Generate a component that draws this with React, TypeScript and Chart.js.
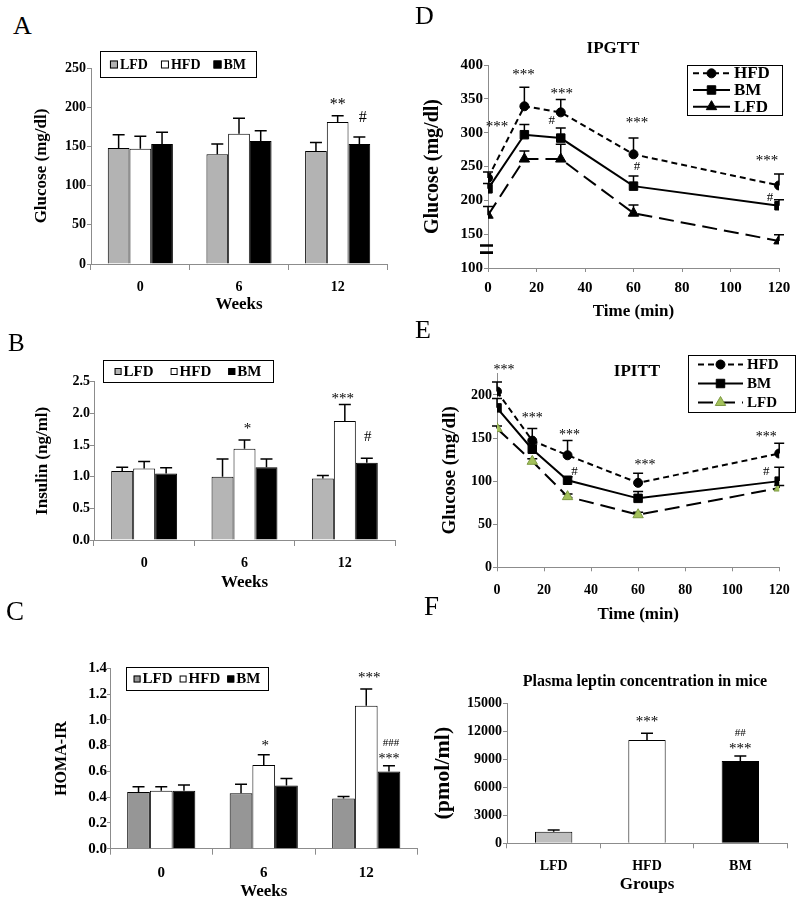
import React, { useEffect, useRef } from 'react';
import { Chart, registerables } from 'chart.js';

Chart.register(...registerables);

const SERIF = "'Liberation Serif', 'Times New Roman', Times, serif";
const AXIS_GREY = '#8c8c8c';

// ---------------- data ----------------
const weekLabels = ['0', '6', '12'];
const groupLabels = ['LFD', 'HFD', 'BM'];
const timePoints = [0, 15, 30, 60, 120];
const timeTicks = [0, 20, 40, 60, 80, 100, 120];

// A: glucose (mg/dl)
const glucoseTicks = [0, 50, 100, 150, 200, 250];
const glucoseLFD = [148, 140, 144];
const glucoseLFDErr = [17, 13, 11];
const glucoseHFD = [147, 166, 181];
const glucoseHFDErr = [16, 20, 8];
const glucoseBM = [153, 157, 153];
const glucoseBMErr = [15, 13, 9];
const glucoseSigHFD = ['', '', '**'];
const glucoseSigBM = ['', '', '#'];

// B: insulin (ng/ml)
const insulinTicks = [0, 0.5, 1, 1.5, 2, 2.5];
const insulinLFD = [1.09, 1.0, 0.97];
const insulinLFDErr = [0.06, 0.28, 0.05];
const insulinHFD = [1.13, 1.44, 1.88];
const insulinHFDErr = [0.11, 0.14, 0.26];
const insulinBM = [1.05, 1.15, 1.22];
const insulinBMErr = [0.09, 0.13, 0.07];
const insulinSigHFD = ['', '*', '***'];
const insulinSigBM = ['', '', '#'];

// C: HOMA-IR
const homaTicks = [0, 0.2, 0.4, 0.6, 0.8, 1.0, 1.2, 1.4];
const homaLFD = [0.44, 0.43, 0.39];
const homaLFDErr = [0.04, 0.07, 0.015];
const homaHFD = [0.45, 0.65, 1.11];
const homaHFDErr = [0.03, 0.08, 0.13];
const homaBM = [0.45, 0.49, 0.6];
const homaBMErr = [0.045, 0.055, 0.044];
const homaSigHFD = ['', '*', '***'];
const homaSigBM = ['', '', '***'];
const homaSigBM2 = ['', '', '###'];

// D: IPGTT glucose (mg/dl)
const ipgttTicks = [100, 150, 200, 250, 300, 350, 400];
const ipgttHFD = [233, 339, 330, 268, 222];
const ipgttHFDErr = [9, 28, 19, 24, 17];
const ipgttBM = [217, 297, 292, 221, 192];
const ipgttBMErr = [8, 15, 15, 15, 9];
const ipgttLFD = [178, 261, 261, 181, 140];
const ipgttLFDErr = [13, 12, 22, 12, 9];
const ipgttSigHFD = ['***', '***', '***', '***', '***'];
const ipgttSigBM = ['', '', '#', '#', '#'];

// E: IPITT glucose (mg/dl)
const ipittTicks = [0, 50, 100, 150, 200];
const ipittHFD = [204, 147, 130, 98, 132];
const ipittHFDErr = [11, 14, 17, 11, 12];
const ipittBM = [185, 137, 101, 80, 100];
const ipittBMErr = [11, 6, 4, 8, 16];
const ipittLFD = [161, 123, 82, 61, 92];
const ipittLFDErr = [3, 3, 3, 3, 3];
const ipittSigHFD = ['***', '***', '***', '***', '***'];
const ipittSigBM = ['', '', '#', '', '#'];

// F: plasma leptin (pmol/ml)
const leptinTicks = [0, 3000, 6000, 9000, 12000, 15000];
const leptinValues = [1240, 11040, 8800];
const leptinErr = [170, 720, 530];
const leptinSig = ['', '***', '***'];
const leptinSig2 = ['', '', '##'];

// ---------------- types ----------------
interface Frame {
  left: number; top: number; width: number; height: number;
  plotLeft: number; plotRight: number; plotTop: number; plotBottom: number;
}
interface AxisText { text: string; size: number; pad: number; }
interface Series {
  name: string; values: number[]; errors: number[]; fill: string | string[];
  dash?: number[]; point?: string; pointSize?: number; pointFill?: string; pointBorder?: string;
}
interface SigMark { series: number; labels: string[]; dx: number[]; dy: number[]; size: number; }
interface LegendSpec {
  kind: 'bar' | 'line'; x: number; y: number; w: number; h: number; size: number;
  gap?: number; swatch?: number; lineFrom?: number; lineTo?: number; textAt?: number;
}
interface PanelSpec {
  kind: 'bar' | 'line';
  frame: Frame;
  categories?: string[];
  xValues?: number[]; xTicks?: number[]; xMin?: number; xMax?: number;
  yTicks: number[]; yMin: number; yMax: number; decimals: number;
  series: Series[];
  catPct?: number; barPct?: number;
  tickSize: number; yTickLen: number; yTickPad: number; xTickLen: number; xTickPad: number;
  xTitle: AxisText; yTitle: AxisText;
  title?: { text: string; x: number; y: number; size: number };
  legend?: LegendSpec;
  marks: SigMark[];
  capHalf: number;
  breakAt?: number;
}

const LFD_GREEN = '#A3C15B';

// ---------------- panels ----------------
const panelA: PanelSpec = {
  kind: 'bar',
  frame: { left: 0, top: 40, width: 400, height: 280, plotLeft: 91, plotRight: 387, plotTop: 28, plotBottom: 224 },
  categories: weekLabels,
  yTicks: glucoseTicks, yMin: 0, yMax: 250, decimals: 0,
  series: [
    { name: 'LFD', values: glucoseLFD, errors: glucoseLFDErr, fill: '#B3B3B3' },
    { name: 'HFD', values: glucoseHFD, errors: glucoseHFDErr, fill: '#FFFFFF' },
    { name: 'BM', values: glucoseBM, errors: glucoseBMErr, fill: '#000000' },
  ],
  catPct: 0.66, barPct: 1,
  tickSize: 14, yTickLen: 4, yTickPad: 1, xTickLen: 6, xTickPad: 9,
  yTitle: { text: 'Glucose (mg/dl)', size: 17, pad: 31.8 },
  xTitle: { text: 'Weeks', size: 17, pad: 4.8 },
  legend: { kind: 'bar', x: 100, y: 11, w: 156, h: 26, size: 14, gap: 13, swatch: 8 },
  marks: [
    { series: 1, labels: glucoseSigHFD, dx: [0, 0, 0], dy: [0, 0, -10.8], size: 16 },
    { series: 2, labels: glucoseSigBM, dx: [0, 0, 3.5], dy: [0, 0, -19], size: 16 },
  ],
  capHalf: 6,
};

const panelB: PanelSpec = {
  kind: 'bar',
  frame: { left: 0, top: 330, width: 410, height: 270, plotLeft: 94, plotRight: 395, plotTop: 51.7, plotBottom: 210 },
  categories: weekLabels,
  yTicks: insulinTicks, yMin: 0, yMax: 2.5, decimals: 1,
  series: [
    { name: 'LFD', values: insulinLFD, errors: insulinLFDErr, fill: '#B5B5B5' },
    { name: 'HFD', values: insulinHFD, errors: insulinHFDErr, fill: '#FFFFFF' },
    { name: 'BM', values: insulinBM, errors: insulinBMErr, fill: '#000000' },
  ],
  catPct: 0.657, barPct: 1,
  tickSize: 14, yTickLen: 4, yTickPad: 0, xTickLen: 6, xTickPad: 8.6,
  yTitle: { text: 'Insulin (ng/ml)', size: 17, pad: 32.8 },
  xTitle: { text: 'Weeks', size: 17, pad: 6.8 },
  legend: { kind: 'bar', x: 103, y: 30, w: 170, h: 22, size: 15, gap: 17, swatch: 7 },
  marks: [
    { series: 1, labels: insulinSigHFD, dx: [0, 3, -2], dy: [0, -10.7, -5], size: 15 },
    { series: 2, labels: insulinSigBM, dx: [0, 0, 1], dy: [0, 0, -21.7], size: 15 },
  ],
  capHalf: 6,
};

const panelC: PanelSpec = {
  kind: 'bar',
  frame: { left: 0, top: 630, width: 425, height: 274, plotLeft: 110, plotRight: 417.5, plotTop: 38.3, plotBottom: 218.7 },
  categories: weekLabels,
  yTicks: homaTicks, yMin: 0, yMax: 1.4, decimals: 1,
  series: [
    { name: 'LFD', values: homaLFD, errors: homaLFDErr, fill: '#969696' },
    { name: 'HFD', values: homaHFD, errors: homaHFDErr, fill: '#FFFFFF' },
    { name: 'BM', values: homaBM, errors: homaBMErr, fill: '#000000' },
  ],
  catPct: 0.665, barPct: 1,
  tickSize: 15, yTickLen: 3, yTickPad: 0, xTickLen: 6, xTickPad: 9.3,
  yTitle: { text: 'HOMA-IR', size: 16, pad: 52.4 },
  xTitle: { text: 'Weeks', size: 17, pad: 1.8 },
  legend: { kind: 'bar', x: 126, y: 37, w: 142, h: 23, size: 15, gap: 7, swatch: 7 },
  marks: [
    { series: 1, labels: homaSigHFD, dx: [0, 1.5, 3], dy: [0, -9, -10.4], size: 15 },
    { series: 2, labels: homaSigBM, dx: [0, 0, 0], dy: [0, 0, -6], size: 14 },
    { series: 2, labels: homaSigBM2, dx: [0, 0, 2], dy: [0, 0, -23], size: 11 },
  ],
  capHalf: 6,
};

const panelD: PanelSpec = {
  kind: 'line',
  frame: { left: 400, top: 0, width: 400, height: 330, plotLeft: 88, plotRight: 379, plotTop: 65, plotBottom: 268 },
  xValues: timePoints, xTicks: timeTicks, xMin: 0, xMax: 120,
  yTicks: ipgttTicks, yMin: 100, yMax: 400, decimals: 0,
  series: [
    { name: 'HFD', values: ipgttHFD, errors: ipgttHFDErr, fill: '#000', dash: [6, 4], point: 'circle', pointSize: 4.5, pointFill: '#000', pointBorder: '#000' },
    { name: 'BM', values: ipgttBM, errors: ipgttBMErr, fill: '#000', dash: [], point: 'rect', pointSize: 6, pointFill: '#000', pointBorder: '#000' },
    { name: 'LFD', values: ipgttLFD, errors: ipgttLFDErr, fill: '#000', dash: [15, 7], point: 'triangle', pointSize: 6, pointFill: '#000', pointBorder: '#000' },
  ],
  tickSize: 15, yTickLen: 4, yTickPad: 1, xTickLen: 4, xTickPad: 7,
  yTitle: { text: 'Glucose (mg/dl)', size: 20, pad: 21 },
  xTitle: { text: 'Time (min)', size: 17, pad: 7.8 },
  title: { text: 'IPGTT', x: 213, y: 49, size: 17 },
  legend: { kind: 'line', x: 287, y: 65, w: 95, h: 50, size: 17, lineFrom: 6, lineTo: 43, textAt: 47 },
  marks: [
    { series: 0, labels: ipgttSigHFD, dx: [9, -1, 1, 3.5, -12], dy: [-44.7, -12.3, -5.5, -14.7, -12.8], size: 15 },
    { series: 1, labels: ipgttSigBM, dx: [0, 0, -9, 3.5, -9], dy: [0, 0, -7.3, -9, -2.3], size: 13 },
  ],
  capHalf: 5,
  breakAt: 128,
};

const panelE: PanelSpec = {
  kind: 'line',
  frame: { left: 400, top: 320, width: 400, height: 320, plotLeft: 97, plotRight: 383, plotTop: 53.4, plotBottom: 247.3 },
  xValues: timePoints, xTicks: timeTicks, xMin: 0, xMax: 120,
  yTicks: ipittTicks, yMin: 0, yMax: 225, decimals: 0,
  series: [
    { name: 'HFD', values: ipittHFD, errors: ipittHFDErr, fill: '#000', dash: [6, 4], point: 'circle', pointSize: 4.5, pointFill: '#000', pointBorder: '#000' },
    { name: 'BM', values: ipittBM, errors: ipittBMErr, fill: '#000', dash: [], point: 'rect', pointSize: 6, pointFill: '#000', pointBorder: '#000' },
    { name: 'LFD', values: ipittLFD, errors: ipittLFDErr, fill: '#000', dash: [15, 7], point: 'triangle', pointSize: 6, pointFill: LFD_GREEN, pointBorder: '#7E9A44' },
  ],
  tickSize: 14, yTickLen: 4, yTickPad: 1, xTickLen: 4, xTickPad: 10.3,
  yTitle: { text: 'Glucose (mg/dl)', size: 19, pad: 38.6 },
  xTitle: { text: 'Time (min)', size: 17, pad: 14.8 },
  title: { text: 'IPITT', x: 237, y: 52, size: 17 },
  legend: { kind: 'line', x: 288, y: 35, w: 107, h: 57, size: 15, lineFrom: 10, lineTo: 55, textAt: 59 },
  marks: [
    { series: 0, labels: ipittSigHFD, dx: [7, 0, 2, 7, -13], dy: [-12, -10.5, -5.6, -8.3, -6.2], size: 14 },
    { series: 1, labels: ipittSigBM, dx: [0, 0, 7, 0, -13], dy: [0, 0, -5, 0, 4.7], size: 13 },
  ],
  capHalf: 5,
};

const panelF: PanelSpec = {
  kind: 'bar',
  frame: { left: 410, top: 640, width: 390, height: 264, plotLeft: 97, plotRight: 377, plotTop: 63, plotBottom: 203.3 },
  categories: groupLabels,
  yTicks: leptinTicks, yMin: 0, yMax: 15000, decimals: 0,
  series: [
    { name: 'Leptin', values: leptinValues, errors: leptinErr, fill: ['#BEBEBE', '#FFFFFF', '#000000'] },
  ],
  catPct: 0.4, barPct: 1,
  tickSize: 14, yTickLen: 4, yTickPad: 1, xTickLen: 5, xTickPad: 9.3,
  yTitle: { text: '(pmol/ml)', size: 22, pad: 19.8 },
  xTitle: { text: 'Groups', size: 17, pad: 8.8 },
  title: { text: 'Plasma leptin concentration in mice', x: 235, y: 42, size: 16 },
  marks: [
    { series: 0, labels: leptinSig, dx: [0, 0, 0], dy: [0, -11.3, -7], size: 15 },
    { series: 0, labels: leptinSig2, dx: [0, 0, 0], dy: [0, 0, -23], size: 11 },
  ],
  capHalf: 6,
};

const panels = [panelA, panelB, panelC, panelD, panelE, panelF];

const letters = [
  { t: 'A', x: 13, y: 13.4, size: 26 },
  { t: 'B', x: 8, y: 329.6, size: 25 },
  { t: 'C', x: 6, y: 598.4, size: 27 },
  { t: 'D', x: 415, y: 3.4, size: 26 },
  { t: 'E', x: 415, y: 317.4, size: 26 },
  { t: 'F', x: 424, y: 593.4, size: 27 },
];

// ---------------- drawing helpers ----------------
function drawMarker(ctx: CanvasRenderingContext2D, style: string, x: number, y: number, r: number, fill: string, stroke: string) {
  ctx.save();
  ctx.setLineDash([]);
  ctx.fillStyle = fill;
  ctx.strokeStyle = stroke;
  ctx.lineWidth = 1;
  ctx.beginPath();
  if (style === 'circle') {
    ctx.arc(x, y, r, 0, Math.PI * 2);
  } else if (style === 'rect') {
    const s = r * Math.SQRT1_2;
    ctx.rect(x - s, y - s, 2 * s, 2 * s);
  } else {
    let a = 0;
    ctx.moveTo(x + Math.sin(a) * r, y - Math.cos(a) * r);
    a += (2 * Math.PI) / 3;
    ctx.lineTo(x + Math.sin(a) * r, y - Math.cos(a) * r);
    a += (2 * Math.PI) / 3;
    ctx.lineTo(x + Math.sin(a) * r, y - Math.cos(a) * r);
    ctx.closePath();
  }
  ctx.fill();
  ctx.stroke();
  ctx.restore();
}

function makePlugins(spec: PanelSpec) {
  const isLine = spec.kind === 'line';
  const drawErrors = (chart: any) => {
    const ctx: CanvasRenderingContext2D = chart.ctx;
    const yScale = chart.scales.y;
    spec.series.forEach((s, di) => {
      const meta = chart.getDatasetMeta(di);
      meta.data.forEach((el: any, i: number) => {
        const e = s.errors[i];
        if (!e) return;
        const y1 = yScale.getPixelForValue(s.values[i] + e);
        ctx.save();
        ctx.setLineDash([]);
        ctx.strokeStyle = '#000';
        ctx.lineWidth = 1.5;
        ctx.beginPath();
        ctx.moveTo(el.x, el.y);
        ctx.lineTo(el.x, y1);
        ctx.moveTo(el.x - spec.capHalf, y1);
        ctx.lineTo(el.x + spec.capHalf, y1);
        ctx.stroke();
        ctx.restore();
      });
    });
  };

  const errPlugin: any = { id: 'errorBars' };
  if (isLine) errPlugin.beforeDatasetsDraw = drawErrors;
  else errPlugin.afterDatasetsDraw = drawErrors;

  const markPlugin = {
    id: 'sigMarks',
    afterDatasetsDraw(chart: any) {
      const ctx: CanvasRenderingContext2D = chart.ctx;
      const yScale = chart.scales.y;
      spec.marks.forEach((m) => {
        const s = spec.series[m.series];
        const meta = chart.getDatasetMeta(m.series);
        m.labels.forEach((txt, i) => {
          if (!txt) return;
          const el = meta.data[i];
          const y = yScale.getPixelForValue(s.values[i] + (s.errors[i] || 0));
          ctx.save();
          ctx.fillStyle = '#000';
          ctx.font = `normal ${m.size}px ${SERIF}`;
          ctx.textAlign = 'center';
          ctx.textBaseline = 'middle';
          ctx.fillText(txt, el.x + (m.dx[i] || 0), y + (m.dy[i] || 0));
          ctx.restore();
        });
      });
    },
  };

  const decoPlugin = {
    id: 'decorations',
    afterDraw(chart: any) {
      const ctx: CanvasRenderingContext2D = chart.ctx;
      ctx.save();
      if (spec.title) {
        ctx.fillStyle = '#000';
        ctx.font = `bold ${spec.title.size}px ${SERIF}`;
        ctx.textAlign = 'center';
        ctx.textBaseline = 'middle';
        ctx.fillText(spec.title.text, spec.title.x, spec.title.y);
      }
      if (spec.breakAt !== undefined) {
        const yScale = chart.scales.y;
        const yc = yScale.getPixelForValue(spec.breakAt);
        const x0 = chart.chartArea.left;
        ctx.strokeStyle = '#000';
        ctx.lineWidth = 2.6;
        ctx.setLineDash([]);
        ctx.beginPath();
        ctx.moveTo(x0 - 8, yc - 3.6);
        ctx.lineTo(x0 + 5, yc - 3.6);
        ctx.moveTo(x0 - 8, yc + 3.6);
        ctx.lineTo(x0 + 5, yc + 3.6);
        ctx.stroke();
      }
      const lg = spec.legend;
      if (lg) {
        ctx.fillStyle = '#FFFFFF';
        ctx.fillRect(lg.x, lg.y, lg.w, lg.h);
        ctx.strokeStyle = '#000';
        ctx.lineWidth = 1;
        ctx.setLineDash([]);
        ctx.strokeRect(Math.round(lg.x) + 0.5, Math.round(lg.y) + 0.5, lg.w, lg.h);
        ctx.font = `bold ${lg.size}px ${SERIF}`;
        ctx.textBaseline = 'middle';
        ctx.textAlign = 'left';
        if (lg.kind === 'bar') {
          const sw = lg.swatch || 8;
          const tg = 2;
          const gap = lg.gap || 10;
          const widths = spec.series.map((s) => sw + tg + ctx.measureText(s.name).width);
          const total = widths.reduce((a, b) => a + b, 0) + gap * (widths.length - 1);
          let x = lg.x + (lg.w - total) / 2;
          const cy = lg.y + lg.h / 2 + 0.5;
          spec.series.forEach((s, i) => {
            ctx.fillStyle = typeof s.fill === 'string' ? s.fill : s.fill[0];
            ctx.fillRect(x, cy - sw / 2, sw, sw);
            ctx.strokeStyle = '#000';
            ctx.strokeRect(x + 0.5, cy - sw / 2 + 0.5, sw - 1, sw - 1);
            ctx.fillStyle = '#000';
            ctx.fillText(s.name, x + sw + tg, cy + 0.5);
            x += widths[i] + gap;
          });
        } else {
          const n = spec.series.length;
          const rowH = lg.h / n;
          spec.series.forEach((s, i) => {
            const cy = lg.y + rowH * (i + 0.5);
            const x0 = lg.x + (lg.lineFrom || 6);
            const x1 = lg.x + (lg.lineTo || 40);
            ctx.strokeStyle = '#000';
            ctx.lineWidth = 2;
            ctx.setLineDash(s.dash || []);
            ctx.beginPath();
            ctx.moveTo(x0, cy);
            ctx.lineTo(x1, cy);
            ctx.stroke();
            ctx.setLineDash([]);
            drawMarker(ctx, s.point || 'circle', (x0 + x1) / 2, cy, s.pointSize || 4, s.pointFill || '#000', s.pointBorder || '#000');
            ctx.fillStyle = '#000';
            ctx.fillText(s.name, lg.x + (lg.textAt || 45), cy + 0.5);
          });
        }
      }
      ctx.restore();
    },
  };

  return [errPlugin, markPlugin, decoPlugin];
}

function buildConfig(spec: PanelSpec): any {
  const f = spec.frame;
  const bold = (size: number) => ({ family: SERIF, size, weight: 'bold' as const });
  const isBar = spec.kind === 'bar';

  const datasets = spec.series.map((s) =>
    isBar
      ? {
          label: s.name,
          data: s.values,
          backgroundColor: s.fill,
          borderColor: '#000',
          borderWidth: 1,
          categoryPercentage: spec.catPct,
          barPercentage: spec.barPct,
        }
      : {
          label: s.name,
          data: (spec.xValues || []).map((x, i) => ({ x, y: s.values[i] })),
          borderColor: '#000',
          borderWidth: 2,
          borderDash: s.dash,
          pointStyle: s.point,
          pointRadius: s.pointSize,
          pointBackgroundColor: s.pointFill,
          pointBorderColor: s.pointBorder,
          pointBorderWidth: 1,
          tension: 0,
          fill: false,
        }
  );

  const xAxis: any = {
    grid: {
      display: true, drawOnChartArea: false, drawTicks: true,
      tickLength: spec.xTickLen, color: AXIS_GREY, lineWidth: 1,
    },
    border: { display: true, color: AXIS_GREY, width: 1 },
    ticks: {
      color: '#000', font: bold(spec.tickSize), padding: spec.xTickPad,
      maxRotation: 0, autoSkip: false,
    },
    title: {
      display: true, text: spec.xTitle.text, color: '#000', font: bold(spec.xTitle.size),
      padding: { top: 0, bottom: spec.xTitle.pad },
    },
    afterFit: (s: any) => { s.height = f.height - f.plotBottom; },
  };
  if (isBar) {
    xAxis.type = 'category';
    xAxis.offset = true;
    xAxis.grid.offset = true;
  } else {
    xAxis.type = 'linear';
    xAxis.min = spec.xMin;
    xAxis.max = spec.xMax;
    xAxis.afterBuildTicks = (s: any) => { s.ticks = (spec.xTicks || []).map((v) => ({ value: v })); };
    xAxis.ticks.callback = (v: any) => String(v);
  }

  const yAxis: any = {
    type: 'linear',
    min: spec.yMin,
    max: spec.yMax,
    afterBuildTicks: (s: any) => { s.ticks = spec.yTicks.map((v) => ({ value: v })); },
    grid: {
      display: true, drawOnChartArea: false, drawTicks: true,
      tickLength: spec.yTickLen, color: AXIS_GREY, lineWidth: 1,
    },
    border: { display: true, color: AXIS_GREY, width: 1 },
    ticks: {
      color: '#000', font: bold(spec.tickSize), padding: spec.yTickPad,
      callback: (v: any) => Number(v).toFixed(spec.decimals),
    },
    title: {
      display: true, text: spec.yTitle.text, color: '#000', font: bold(spec.yTitle.size),
      padding: { top: spec.yTitle.pad, bottom: 0 },
    },
    afterFit: (s: any) => { s.width = f.plotLeft; },
  };

  return {
    type: isBar ? 'bar' : 'line',
    data: { labels: isBar ? spec.categories : undefined, datasets },
    options: {
      responsive: false,
      animation: false,
      events: [],
      devicePixelRatio: 1,
      layout: { padding: { left: 0, top: f.plotTop, right: f.width - f.plotRight, bottom: 0 } },
      plugins: { legend: { display: false }, tooltip: { enabled: false }, title: { display: false } },
      scales: { x: xAxis, y: yAxis },
    },
    plugins: makePlugins(spec),
  };
}

function Panel({ spec }: { spec: PanelSpec }) {
  const ref = useRef<HTMLCanvasElement>(null);
  useEffect(() => {
    if (!ref.current) return;
    const chart = new Chart(ref.current, buildConfig(spec));
    return () => chart.destroy();
  }, [spec]);
  const f = spec.frame;
  return (
    <canvas
      ref={ref}
      width={f.width}
      height={f.height}
      style={{ position: 'absolute', left: f.left, top: f.top, width: f.width, height: f.height }}
    />
  );
}

export default function App() {
  useEffect(() => {
    document.body.style.margin = '0';
    document.body.style.background = '#fff';
  }, []);
  return (
    <div style={{ position: 'absolute', left: 0, top: 0, width: 800, height: 904, overflow: 'hidden', background: '#fff' }}>
      {panels.map((p, i) => (
        <Panel key={i} spec={p} />
      ))}
      {letters.map((l) => (
        <div
          key={l.t}
          style={{
            position: 'absolute', left: l.x, top: l.y, fontFamily: SERIF, fontSize: l.size,
            lineHeight: 1, color: '#000', fontWeight: 'normal',
          }}
        >
          {l.t}
        </div>
      ))}
    </div>
  );
}
